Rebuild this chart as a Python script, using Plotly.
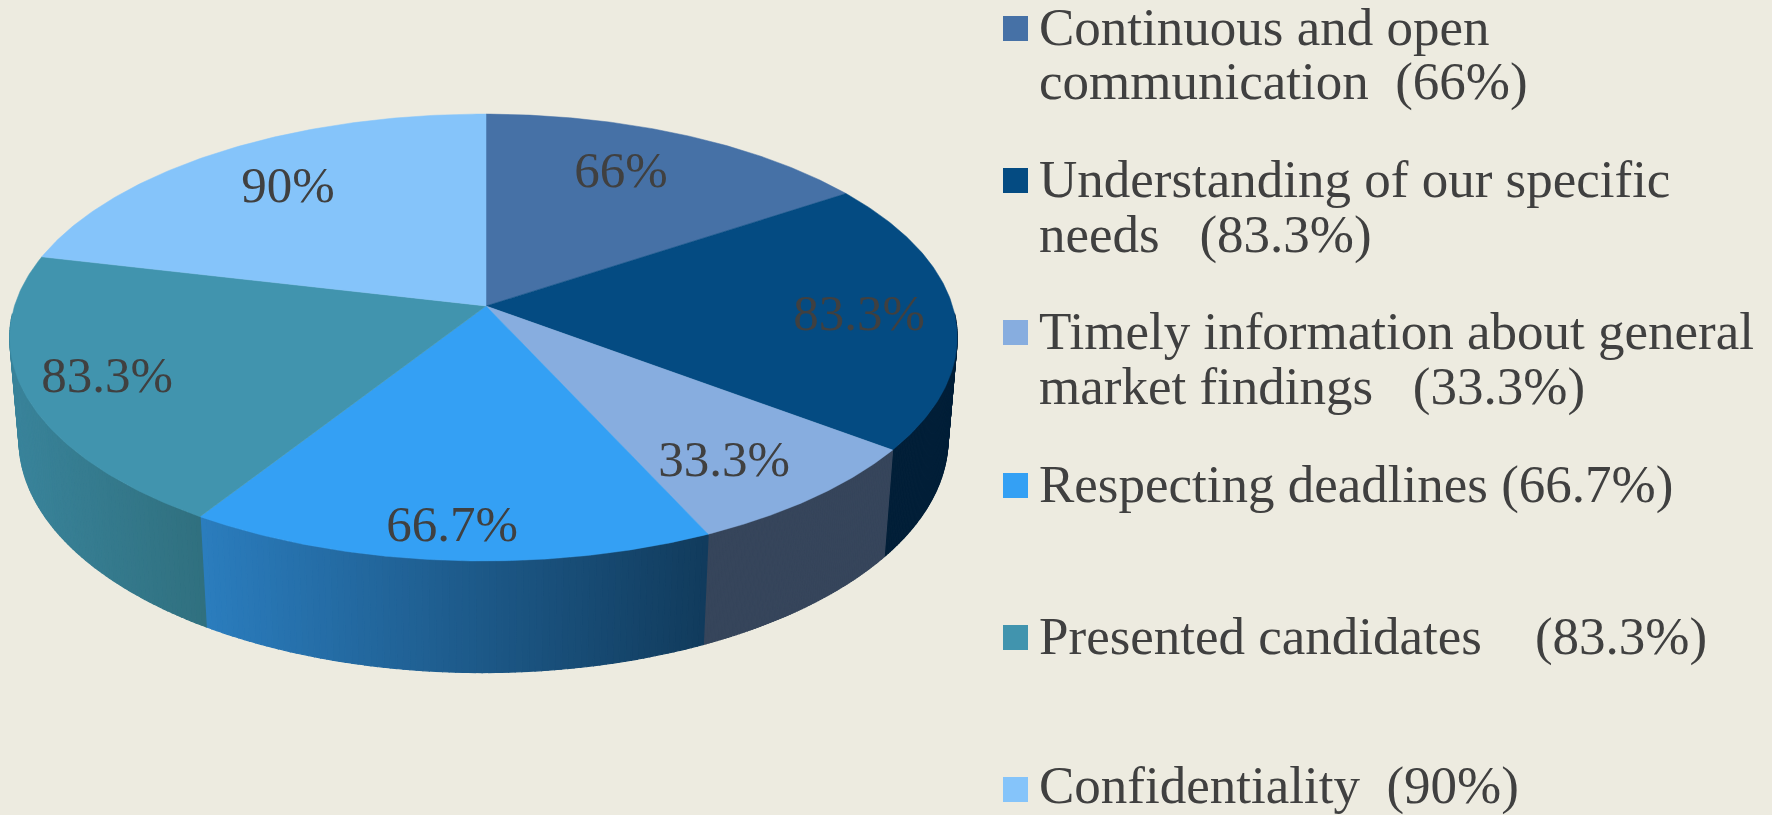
import math
import plotly.graph_objects as go

categories = ["Continuous and open communication", "Understanding of our specific needs",
              "Timely information about general market findings", "Respecting deadlines",
              "Presented candidates", "Confidentiality"]
values = [66, 83.3, 33.3, 66.7, 83.3, 90]
value_labels = ["66%", "83.3%", "33.3%", "66.7%", "83.3%", "90%"]
top_colors = ["#4671a6", "#044b82", "#87addf", "#34a0f4", "#4194ae", "#85c4fa"]
wall_left = ["#2a4468", "#021f38", "#36455b", "#2b7dbe", "#39839a", "#39839a"]
wall_right = ["#2a4468", "#021f38", "#36455b", "#113b5c", "#30707f", "#39839a"]
label_xy = [(621, 174), (859, 317), (724, 463), (452, 528), (107, 379), (288, 189)]
legend_lines = [
    ["Continuous and open", "communication\u00a0\u00a0(66%)"],
    ["Understanding of our specific", "needs\u00a0\u00a0\u00a0(83.3%)"],
    ["Timely information about general", "market findings\u00a0\u00a0\u00a0(33.3%)"],
    ["Respecting deadlines (66.7%)"],
    ["Presented candidates\u00a0\u00a0\u00a0\u00a0(83.3%)"],
    ["Confidentiality\u00a0\u00a0(90%)"],
]
legend_swatch_y = [28.5, 180.5, 332.5, 485.5, 637.5, 789.5]
legend_mid_y = [[32, 86], [184, 239], [336, 391], [489], [641], [790]]

BG = "#edebe0"
TEXT = "#404040"
FONT = "Liberation Serif"
LABEL_SIZE = 51
LEGEND_SIZE = 53

# projection of the tilted disc (perspective), in page pixels
CX, CY, A, B, K, J = 486, 306, 469, 219, 0.141, 0.0053
H_C, H_D = 103, 0.0195


def project(theta, bottom=False):
    x, y = math.sin(theta), math.cos(theta)
    if bottom:
        w = 1 + K * y + J * x + H_D
        return CX + A * x / w, CY + (-y * B + H_C) / w
    w = 1 + K * y + J * x
    return CX + A * x / w, CY - y * B / w


def mix(c1, c2, t):
    a = [int(c1[i:i + 2], 16) for i in (1, 3, 5)]
    b = [int(c2[i:i + 2], 16) for i in (1, 3, 5)]
    return "#%02x%02x%02x" % tuple(round(p + (q - p) * t) for p, q in zip(a, b))


total = sum(values)
edges = [0.0]
for v in values:
    edges.append(edges[-1] + v / total * 2 * math.pi)

fig = go.Figure()

# side walls, drawn as narrow strips so the shading can vary along the rim;
# only the front part of the rim is visible below the top face
for i, v in enumerate(values):
    t0, t1 = edges[i], edges[i + 1]
    t0v, t1v = max(t0, math.radians(92)), min(t1, math.radians(268))
    if t1v <= t0v:
        continue
    n = 80
    x_a = project(t0v)[0]
    x_b = project(t1v)[0]
    lo, hi = min(x_a, x_b), max(x_a, x_b)
    for s in range(n):
        a = t0v + (t1v - t0v) * s / n
        b = t0v + (t1v - t0v) * (s + 1) / n
        ts = [a, (a + b) / 2, b]
        top = [project(t) for t in ts]
        bot = [project(t, True) for t in reversed(ts)]
        pts = top + bot + [top[0]]
        xm = sum(p[0] for p in top) / len(top)
        col = mix(wall_left[i], wall_right[i], min(1, max(0, (xm - lo) / (hi - lo))))
        fig.add_trace(go.Scatter(x=[p[0] for p in pts], y=[p[1] for p in pts], mode="lines",
                                 fill="toself", fillcolor=col, line=dict(color=col, width=1.2),
                                 hoverinfo="skip", showlegend=False))

# top face
for i, v in enumerate(values):
    t0, t1 = edges[i], edges[i + 1]
    n = 120
    rim = [project(t0 + (t1 - t0) * j / n) for j in range(n + 1)]
    pts = [(CX, CY)] + rim + [(CX, CY)]
    fig.add_trace(go.Scatter(x=[p[0] for p in pts], y=[p[1] for p in pts], mode="lines",
                             fill="toself", fillcolor=top_colors[i],
                             line=dict(color=top_colors[i], width=0.5),
                             name=categories[i], hoverinfo="name", showlegend=False))

# value labels
fig.add_trace(go.Scatter(x=[p[0] for p in label_xy], y=[p[1] for p in label_xy], mode="text",
                         text=value_labels, textposition="middle center",
                         textfont=dict(family=FONT, size=LABEL_SIZE, color=TEXT),
                         hoverinfo="skip", showlegend=False))

# legend swatches and text
fig.add_trace(go.Scatter(x=[1015.5] * len(values), y=legend_swatch_y, mode="markers",
                         marker=dict(symbol="square", size=25, color=top_colors, line=dict(width=0)),
                         hoverinfo="skip", showlegend=False))
for lines, ys in zip(legend_lines, legend_mid_y):
    fig.add_trace(go.Scatter(x=[1039] * len(lines), y=ys, mode="text", text=lines,
                             textposition="middle right",
                             textfont=dict(family=FONT, size=LEGEND_SIZE, color=TEXT),
                             hoverinfo="skip", showlegend=False, cliponaxis=False))

fig.update_layout(
    width=1772, height=815, margin=dict(l=0, r=0, t=0, b=0),
    paper_bgcolor=BG, plot_bgcolor=BG, showlegend=False,
    xaxis=dict(range=[0, 1772], visible=False, fixedrange=True),
    yaxis=dict(range=[815, 0], visible=False, fixedrange=True),
)
fig.write_html("out.html", config={"displayModeBar": False},
               post_script="document.body.style.margin='0';document.body.style.overflow='hidden';")
